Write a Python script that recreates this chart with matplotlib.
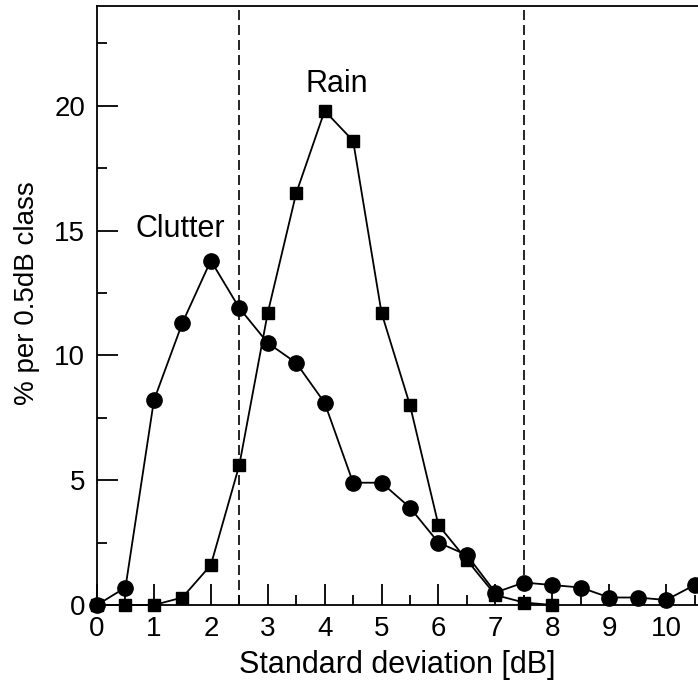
import matplotlib
matplotlib.use("Agg")
import matplotlib.pyplot as plt
from matplotlib.ticker import MultipleLocator

plt.rcParams['font.family'] = ['Liberation Sans', 'DejaVu Sans']

# === Data ===
clutter_x = [0, 0.5, 1, 1.5, 2, 2.5, 3, 3.5, 4, 4.5, 5, 5.5, 6, 6.5, 7, 7.5, 8, 8.5, 9, 9.5, 10, 10.5]
clutter_y = [0, 0.7, 8.2, 11.3, 13.8, 11.9, 10.5, 9.7, 8.1, 4.9, 4.9, 3.9, 2.5, 2.0, 0.5, 0.9, 0.8, 0.7, 0.3, 0.3, 0.2, 0.8]

rain_x = [0, 0.5, 1, 1.5, 2, 2.5, 3, 3.5, 4, 4.5, 5, 5.5, 6, 6.5, 7, 7.5, 8]
rain_y = [0, 0, 0, 0.3, 1.6, 5.6, 11.7, 16.5, 19.8, 18.6, 11.7, 8.0, 3.2, 1.8, 0.4, 0.1, 0.0]

thresholds = [2.5, 7.5]

# === Plot ===
fig = plt.figure(figsize=(6.98, 6.84), dpi=100)
ax = fig.add_axes([97 / 698, 1 - 605 / 684, (698 - 97) / 698, (605 - 6) / 684])

for t in thresholds:
    ax.axvline(t, color='black', lw=1.2, linestyle=(0, (6, 3)), zorder=1)

ax.plot(clutter_x, clutter_y, 'k-', marker='o', markersize=11, lw=1.3, clip_on=False, zorder=3)
ax.plot(rain_x, rain_y, 'k-', marker='s', markersize=9, lw=1.3, clip_on=False, zorder=3)

ax.text(1.47, 14.75, 'Clutter', fontsize=22, ha='center', va='baseline')
ax.text(4.21, 20.56, 'Rain', fontsize=22, ha='center', va='baseline')

ax.set_xlim(0, 10.56)
ax.set_ylim(0, 24)
ax.xaxis.set_major_locator(MultipleLocator(1))
ax.xaxis.set_minor_locator(MultipleLocator(0.5))
ax.yaxis.set_major_locator(MultipleLocator(5))
ax.yaxis.set_minor_locator(MultipleLocator(2.5))
ax.tick_params(which='both', direction='in', width=1.3)
ax.tick_params(which='major', length=15)
ax.tick_params(which='minor', length=7.5)
ax.tick_params(axis='x', which='major', labelsize=20, pad=8)
ax.tick_params(axis='y', which='major', labelsize=20, pad=8.5)
for s in ax.spines.values():
    s.set_linewidth(1.3)
ax.spines['right'].set_visible(False)

ax.set_xlabel('Standard deviation [dB]', fontsize=22, labelpad=6)
ax.set_ylabel('% per 0.5dB class', fontsize=20)
ax.yaxis.set_label_coords(-0.095, 0.521)

fig.savefig('out.png', dpi=100)
